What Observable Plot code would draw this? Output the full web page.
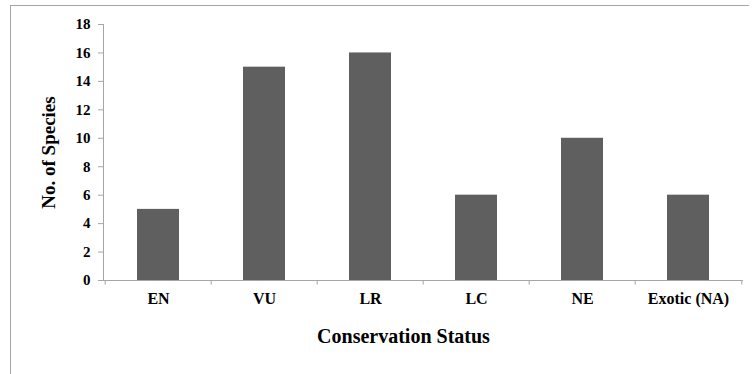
<!DOCTYPE html>
<html><head><meta charset="utf-8">
<script src="https://cdn.jsdelivr.net/npm/d3@7"></script>
<script src="https://cdn.jsdelivr.net/npm/@observablehq/plot@0.6"></script>
<style>
html,body{margin:0;padding:0;background:#fff;}
#wrap{position:relative;width:752px;height:374px;overflow:hidden;}
#frame{position:absolute;left:10px;top:5px;width:738px;height:380px;border-left:1px solid #a6a6a6;border-top:1px solid #a6a6a6;pointer-events:none;}
#chart{position:absolute;left:0;top:0;}
#chart svg text{font-family:"Liberation Serif","Times New Roman",serif !important;font-weight:bold;}
</style></head>
<body><div id="wrap"><div id="frame"></div><div id="chart"></div></div>
<script>
const categories = ["EN", "VU", "LR", "LC", "NE", "Exotic (NA)"];
const counts = [5, 15, 16, 6, 10, 6];
const yTicks = [0, 2, 4, 6, 8, 10, 12, 14, 16, 18];
const xTitle = "Conservation Status";
const yTitle = "No. of Species";

const data = categories.map((c, i) => ({status: c, n: counts[i]}));
const font = "Liberation Serif";
const W = 752, H = 374, ML = 103, MR = 9, MT = 24, MB = 94;
const step = (W - ML - MR) / categories.length;
const grey = "#a6a6a6";

const chart = Plot.plot({
  width: W, height: H,
  marginLeft: ML, marginRight: MR, marginTop: MT, marginBottom: MB,
  style: {fontFamily: font, fontWeight: "bold", fontSize: "15px", color: "#000", background: "transparent"},
  x: {domain: categories, paddingInner: 0.6, paddingOuter: 0.3, label: null},
  y: {domain: [0, 18], label: null},
  marks: [
    Plot.barY(data, {x: "status", y: "n", fill: "#5f5f5f"}),
    Plot.frame({anchor: "left", stroke: grey}),
    Plot.axisY({ticks: yTicks, tickSize: 5, tickPadding: 8, stroke: grey, fill: "#000", fontFamily: font, fontWeight: "bold", fontSize: 15,
      label: yTitle, labelAnchor: "center", labelOffset: 62, labelArrow: "none"}),
    Plot.axisX({tickSize: 0, tickPadding: 12, fill: "#000", fontFamily: font, fontWeight: "bold", fontSize: 16, label: null}),
    Plot.ruleY([0], {stroke: grey}),
    Plot.ruleX(categories, {x: d => d, dx: -step / 2, y1: 0, y2: -0.32, stroke: grey, clip: false}),
    Plot.ruleX(categories.slice(-1), {x: d => d, dx: step / 2, y1: 0, y2: -0.32, stroke: grey, clip: false}),
    Plot.text([xTitle], {frameAnchor: "bottom", dx: -20, dy: 62, fontSize: 20, fontWeight: "bold", fontFamily: font, fill: "#000"})
  ]
});
document.getElementById("chart").appendChild(chart);
d3.select(chart).selectAll("g[aria-label='y-axis label'] text").style("font-size", "19px");
</script>
</body></html>
